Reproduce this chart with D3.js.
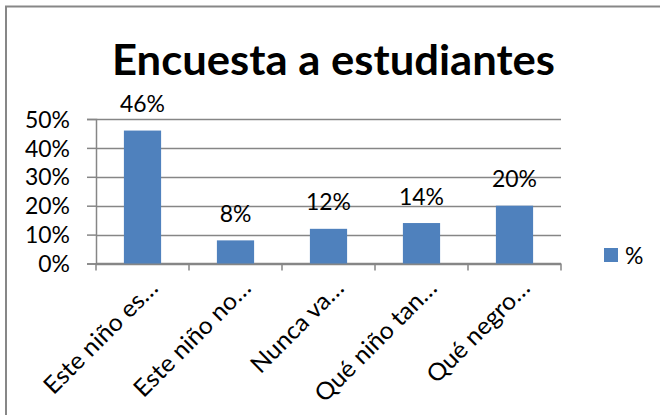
<!DOCTYPE html>
<html>
<head>
<meta charset="utf-8">
<script src="https://cdn.jsdelivr.net/npm/d3@7"></script>
<style>
	body { margin: 0; background: #fff; }
	svg text { font-family: Lato, "Open Sans", sans-serif; fill: #000; }
</style>
</head>
<body>
<div id="chart"></div>
<script>
	///////////////////////////////////////////////////////////////////////////
	//////////////////////////////// Data /////////////////////////////////////
	///////////////////////////////////////////////////////////////////////////

	var categories = ["Este niño es…", "Este niño no…", "Nunca va…", "Qué niño tan…", "Qué negro…"];
	var values = [0.46, 0.08, 0.12, 0.14, 0.20];
	var yTicks = [0, 0.1, 0.2, 0.3, 0.4, 0.5];
	var seriesName = "%";
	var title = "Encuesta a estudiantes";

	///////////////////////////////////////////////////////////////////////////
	//////////////////////////// Set up the svg ///////////////////////////////
	///////////////////////////////////////////////////////////////////////////

	var width = 660,
		height = 415;

	var barColor = "#4F81BD",
		gridColor = "#868686",
		fontSize = "24px";

	var svg = d3.select("#chart")
		.append("svg")
		.attr("width", width)
		.attr("height", height);

	//Outer chart border (right and bottom edges fall outside the picture)
	svg.append("rect")
		.attr("x", 6)
		.attr("y", 6.5)
		.attr("width", 720)
		.attr("height", 480)
		.style("fill", "none")
		.style("stroke", "#878787")
		.style("stroke-width", 2);

	var x = d3.scaleBand()
		.domain(categories)
		.range([96, 561])
		.paddingInner(0.6)
		.paddingOuter(0.3);

	var y = d3.scaleLinear()
		.domain([0, 0.5])
		.range([263.5, 119]);

	var pct = d3.format(".0%");

	//Fit text to the width it has in the original rendering
	function stretch(sel, f) {
		sel.each(function() {
			var L = this.getComputedTextLength();
			this.setAttribute("textLength", L * f);
			this.setAttribute("lengthAdjust", "spacingAndGlyphs");
		});
	}//stretch

	///////////////////////////////////////////////////////////////////////////
	//////////////////////////////// Title ////////////////////////////////////
	///////////////////////////////////////////////////////////////////////////

	svg.append("text")
		.attr("x", 333.5)
		.attr("y", 75)
		.style("text-anchor", "middle")
		.style("font-size", "42px")
		.style("font-weight", "bold")
		.attr("textLength", 443)
		.attr("lengthAdjust", "spacingAndGlyphs")
		.text(title);

	///////////////////////////////////////////////////////////////////////////
	//////////////////////////////// Grid & axes //////////////////////////////
	///////////////////////////////////////////////////////////////////////////

	svg.append("g").attr("class", "grid")
		.selectAll("line")
		.data(yTicks)
		.enter().append("line")
		.attr("x1", 96)
		.attr("x2", x.range()[1])
		.attr("y1", function(d) { return Math.round(y(d)) + 0.5; })
		.attr("y2", function(d) { return Math.round(y(d)) + 0.5; })
		.style("stroke", gridColor)
		.style("stroke-width", 1.5);

	var yAxis = svg.append("g")
		.attr("transform", "translate(96,0)")
		.call(d3.axisLeft(y).tickValues(yTicks).tickFormat(pct).tickSize(9).tickPadding(17));
	yAxis.select(".domain").style("stroke", gridColor).style("stroke-width", 1.5);
	yAxis.selectAll(".tick line").style("stroke", gridColor).style("stroke-width", 1.5);
	yAxis.selectAll(".tick text")
		.attr("dy", "0.34em")
		.style("font-size", fontSize)
		.style("font-family", "Lato, sans-serif");

	//Measure the "50%" label to get the text width factor
	var refLen = yAxis.selectAll(".tick text").nodes()[yTicks.length - 1].getComputedTextLength();
	var textStretch = 45 / refLen;
	stretch(yAxis.selectAll(".tick text"), textStretch);

	var xAxis = svg.append("g")
		.attr("transform", "translate(0," + y(0) + ")");
	xAxis.append("line")
		.attr("x1", x.range()[0])
		.attr("x2", x.range()[1])
		.style("stroke", gridColor)
		.style("stroke-width", 1.5);

	//Tick marks sit on the band edges
	var edges = categories.map(function(d) { return x(d) - x.step() * x.paddingInner() / 2; });
	edges.push(x.range()[1]);
	xAxis.selectAll(".edgeTick")
		.data(edges)
		.enter().append("line")
		.attr("class", "edgeTick")
		.attr("x1", function(d) { return d; })
		.attr("x2", function(d) { return d; })
		.attr("y1", 0)
		.attr("y2", 7)
		.style("stroke", gridColor)
		.style("stroke-width", 1.5);

	var catLabels = xAxis.selectAll(".catLabel")
		.data(categories)
		.enter().append("text")
		.attr("class", "catLabel")
		.attr("transform", function(d) { return "translate(" + (x(d) + x.bandwidth() / 2 + 17) + ",26) rotate(-45)"; })
		.style("text-anchor", "end")
		.style("font-size", fontSize)
		.text(function(d) { return d; });

	var catStretch = 150 / catLabels.nodes()[0].getComputedTextLength();
	stretch(catLabels, catStretch);

	///////////////////////////////////////////////////////////////////////////
	//////////////////////////////// Bars /////////////////////////////////////
	///////////////////////////////////////////////////////////////////////////

	svg.selectAll(".bar")
		.data(values)
		.enter().append("rect")
		.attr("class", "bar")
		.attr("x", function(d, i) { return x(categories[i]); })
		.attr("y", function(d) { return y(d); })
		.attr("width", x.bandwidth())
		.attr("height", function(d) { return y(0) - y(d); })
		.style("fill", barColor);

	var valueLabels = svg.selectAll(".valueLabel")
		.data(values)
		.enter().append("text")
		.attr("class", "valueLabel")
		.attr("x", function(d, i) { return x(categories[i]) + x.bandwidth() / 2; })
		.attr("y", function(d) { return y(d) - 18.5; })
		.style("text-anchor", "middle")
		.style("font-size", fontSize)
		.text(function(d) { return pct(d); });
	stretch(valueLabels, textStretch);

	///////////////////////////////////////////////////////////////////////////
	//////////////////////////////// Legend ///////////////////////////////////
	///////////////////////////////////////////////////////////////////////////

	var legend = svg.append("g")
		.attr("transform", "translate(604,248)");
	legend.append("rect")
		.attr("width", 14)
		.attr("height", 14)
		.style("fill", barColor);
	var legendText = legend.append("text")
		.attr("x", 21)
		.attr("y", 15.5)
		.style("font-size", fontSize)
		.text(seriesName);
	stretch(legendText, textStretch);
</script>
</body>
</html>
